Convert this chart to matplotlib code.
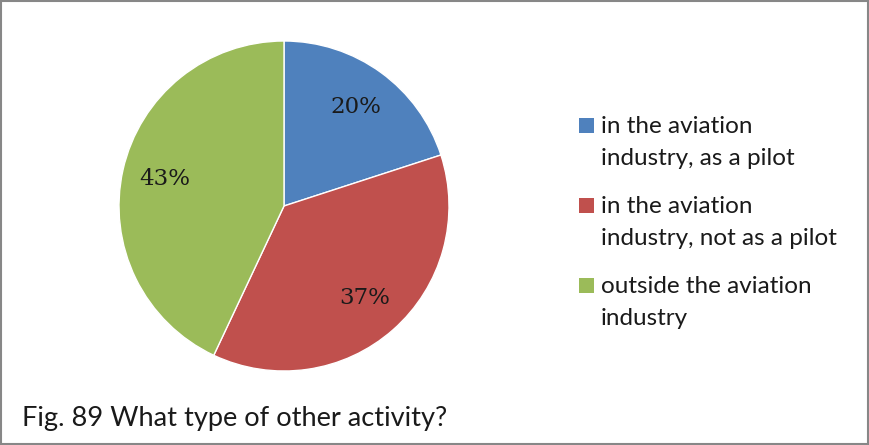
import matplotlib.pyplot as plt
from matplotlib.patches import Rectangle

categories = ['in the aviation\nindustry, as a pilot',
              'in the aviation\nindustry, not as a pilot',
              'outside the aviation\nindustry']
shares = [20, 37, 43]
colors = ['#4F81BD', '#C0504D', '#9BBB59']
caption = 'Fig. 89 What type of other activity?'

W, H = 869, 445
fig = plt.figure(figsize=(W / 100, H / 100), dpi=100)

# pie area in pixels: centre (284, 206), radius 165
cx, cy, r = 284, 206, 165
ax = fig.add_axes([(cx - r) / W, (H - cy - r) / H, 2 * r / W, 2 * r / H])
wedges, texts, autotexts = ax.pie(
    shares, colors=colors, startangle=90, counterclock=False,
    autopct='%d%%', pctdistance=0.74,
    wedgeprops=dict(edgecolor='white', linewidth=1),
    textprops=dict(family='DejaVu Serif', fontsize=16.5, color='#1a1a1a'))
ax.set_xlim(-1, 1)
ax.set_ylim(-1, 1)
ax.set_aspect('equal')
ax.axis('off')

# legend, drawn by hand so the swatch sits on the first line
leg_font = dict(family='Lato', fontsize=17.5, color='#1a1a1a')
y0 = 118
for i, (w, lab) in enumerate(zip(wedges, categories)):
    ytop = y0 + i * 80
    fig.patches.append(Rectangle((579 / W, 1 - (ytop + 15) / H), 15 / W, 15 / H,
                                 transform=fig.transFigure,
                                 facecolor=w.get_facecolor(), edgecolor='none'))
    fig.text(601 / W, 1 - (ytop - 2) / H, lab, va='top', ha='left',
             linespacing=1.62, **leg_font)

fig.text(22 / W, 1 - 426 / H, caption, va='baseline', ha='left',
         family='Lato', fontsize=19.6, color='#1a1a1a')

fig.patches.append(Rectangle((1 / W, 1 / H), (W - 2) / W, (H - 2) / H,
                             transform=fig.transFigure, fill=False,
                             edgecolor='#878787', linewidth=1.5))

fig.savefig('out.png', dpi=100, facecolor='white')
